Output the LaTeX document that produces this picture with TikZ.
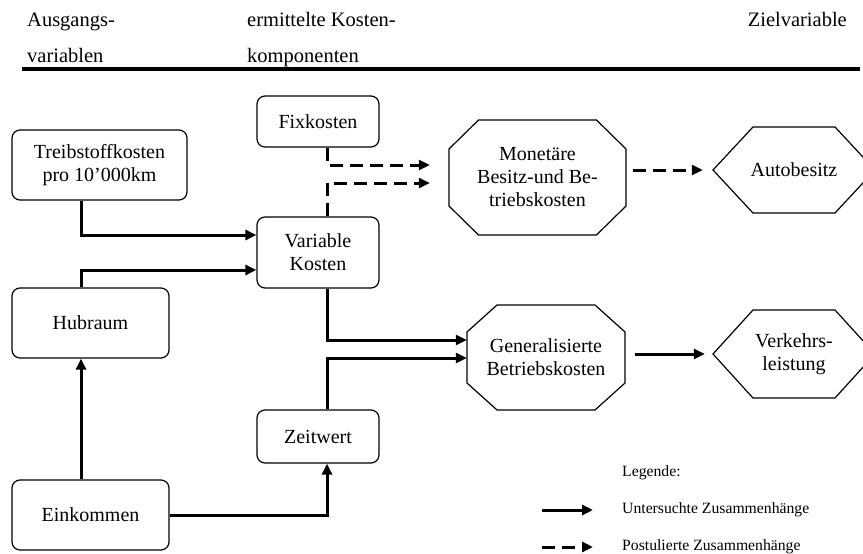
\documentclass[tikz,border=0pt]{standalone}
\usepackage{fontspec}
\setmainfont{Liberation Serif}
\usetikzlibrary{arrows.meta}

\begin{document}
\begin{tikzpicture}[
  x=1pt, y=-1pt,
  font=\fontsize{20}{23}\selectfont,
  every node/.style = {inner sep=0pt},
  box/.style = {shape=rectangle, rounded corners=8pt, draw, line width=1.2pt,
    align=center},
  form/.style = {shape=rectangle, align=center},
  kopf/.style = {font=\fontsize{20.5}{23}\selectfont},
  umriss/.style = {line width=1.2pt, line join=miter},
  pfeil/.style = {line width=3pt, -{Triangle[length=11pt,width=10pt]}},
  strichpfeil/.style = {pfeil, dash pattern=on 13pt off 7pt},
  legende/.style = {anchor=west, font=\fontsize{15.7}{18}\selectfont}
  ]
  \useasboundingbox (0,0) rectangle (863,554);
  \clip (0,0) rectangle (863,554);

  % Kopfzeile
  \node[kopf, anchor=base west] (ausg1) at (27,27) {Ausgangs-};
  \node[kopf, anchor=base west] (ausg2) at (27,62) {variablen};
  \node[kopf, anchor=base west] (komp1) at (247,27) {ermittelte Kosten-};
  \node[kopf, anchor=base west] (komp2) at (247,62) {komponenten};
  \node[kopf, anchor=base east] (ziel) at (847,27) {Zielvariable};
  \draw[line width=3.5pt] (22,69) -- (860,69);

  % Kaesten
  \node[box, minimum width=122pt, minimum height=51pt] (fix) at (318,121.5) {Fixkosten};
  \node[box, minimum width=175pt, minimum height=70pt] (treib) at (99.5,165) {Treibstoffkosten\\pro 10’000km};
  \node[box, minimum width=122pt, minimum height=71pt] (var) at (318,252.5) {Variable\\Kosten};
  \node[box, minimum width=157pt, minimum height=70pt] (hub) at (90.5,323) {Hubraum};
  \node[box, minimum width=157pt, minimum height=70pt] (eink) at (90.5,515) {Einkommen};
  \node[box, minimum width=122pt, minimum height=53pt] (zeit) at (318,436.5) {Zeitwert};

  % Achtecke und Sechsecke
  \node[form, minimum width=177pt, minimum height=115pt] (mon) at (537.5,177.5) {Monetäre\\Besitz-und Be-\\triebskosten};
  \node[form, minimum width=158pt, minimum height=105pt] (gen) at (546,357.5) {Generalisierte\\Betriebskosten};
  \node[form, minimum width=162pt, minimum height=86pt] (auto) at (794,170) {Autobesitz};
  \node[form, minimum width=162pt, minimum height=88pt] (verk) at (794,354) {Verkehrs-\\leistung};
  \draw[umriss, shift={(mon.center)}] (-59,-57.5) -- (59,-57.5) -- (88.5,-28.5) -- (88.5,28.5)
    -- (59,57.5) -- (-59,57.5) -- (-88.5,28.5) -- (-88.5,-28.5) -- cycle;
  \draw[umriss, shift={(gen.center)}] (-49,-52.5) -- (49,-52.5) -- (79,-25.5) -- (79,25.5)
    -- (49,52.5) -- (-49,52.5) -- (-79,25.5) -- (-79,-25.5) -- cycle;
  \draw[umriss, shift={(auto.center)}] (-81,0) -- (-41,-43) -- (41,-43) -- (81,0)
    -- (41,43) -- (-41,43) -- cycle;
  \draw[umriss, shift={(verk.center)}] (-81,0) -- (-41,-44) -- (41,-44) -- (81,0)
    -- (41,44) -- (-41,44) -- cycle;

  % untersuchte Zusammenhaenge
  \draw[pfeil] ([xshift=-18.5pt]treib.south) |- (var.west |- 0,235);
  \draw[pfeil] ([xshift=-9.5pt]hub.north) |- (var.west |- 0,270);
  \draw[pfeil] ([xshift=-9.5pt]eink.north) -- ([xshift=-9.5pt]hub.south);
  \draw[pfeil] (eink.east) -| ([xshift=9pt]zeit.south);
  \draw[pfeil] ([xshift=9pt]var.south) |- (gen.west |- 0,340);
  \draw[pfeil] ([xshift=9pt]zeit.north) |- (gen.west |- 0,358);
  \draw[pfeil, shorten <=10pt, shorten >=8pt] (gen.east |- verk.west) -- (verk.west);

  % postulierte Zusammenhaenge
  \draw[strichpfeil, shorten >=19pt] ([xshift=9pt]fix.south) |- (mon.west |- 0,165);
  \draw[strichpfeil, shorten >=19pt] ([xshift=9pt]var.north) |- (mon.west |- 0,183);
  \draw[strichpfeil, shorten <=7pt, shorten >=10pt] (mon.east |- auto.west) -- (auto.west);

  % Legende
  \node[legende] (leg) at (622,473) {Legende:};
  \node[legende] (unt) at (622,510) {Untersuchte Zusammenhänge};
  \node[legende] (post) at (622,547) {Postulierte Zusammenhänge};
  \draw[pfeil] ([xshift=-80pt]unt.west) -- ([xshift=-29pt]unt.west);
  \draw[strichpfeil] ([xshift=-80pt]post.west) -- ([xshift=-29pt]post.west);
\end{tikzpicture}
\end{document}
